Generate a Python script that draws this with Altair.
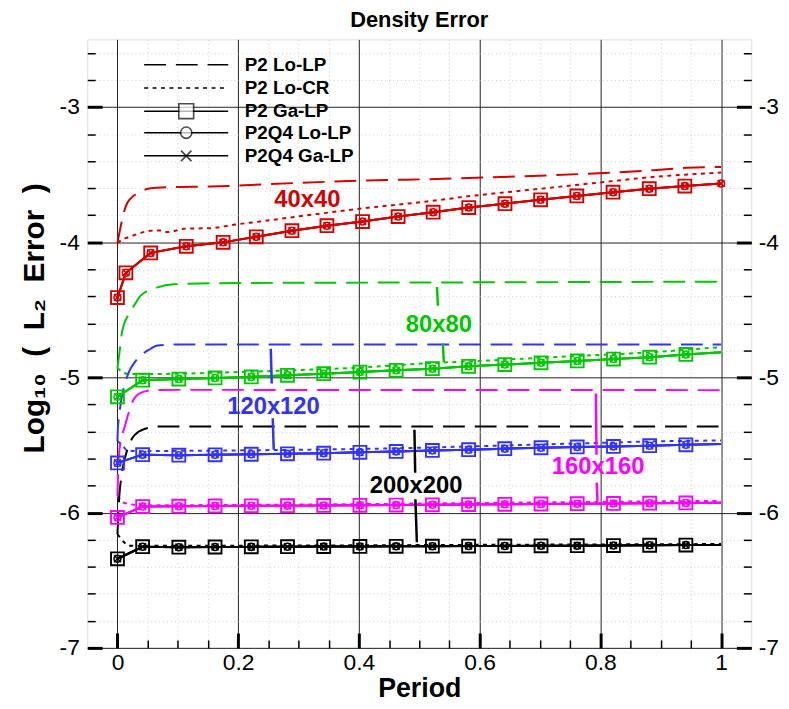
import altair as alt
import pandas as pd

# ------------------------------------------------------------------ data
methods = ["P2 Lo-LP", "P2 Lo-CR", "P2 Ga-LP", "P2Q4 Lo-LP", "P2Q4 Ga-LP"]
grids = ["40x40", "80x80", "120x120", "160x160", "200x200"]
grid_colors = ["#d40000", "#00c800", "#3232ff", "#ff00ff", "#000000"]

# marker / sample times
t_mark = [0, 0.0417, 0.1017, 0.1617, 0.2217, 0.2817, 0.3417, 0.4017, 0.4617,
          0.5217, 0.5817, 0.6417, 0.7017, 0.7617, 0.8217, 0.8817, 0.9417, 1.0]
t_mark_40 = [0, 0.014, 0.055, 0.114, 0.175, 0.230, 0.289, 0.347, 0.406, 0.465,
             0.523, 0.582, 0.642, 0.701, 0.761, 0.821, 0.881, 0.940, 1.0]

# ---- 40x40
r_lolp_x = [0, 0.0054, 0.011, 0.016, 0.025, 0.036, 0.049, 0.066, 0.088, 0.154, 0.29, 0.348, 0.593, 0.888, 0.943, 1.0]
r_lolp_y = [-4.006, -3.883, -3.773, -3.712, -3.663, -3.632, -3.607, -3.597, -3.593, -3.588, -3.563, -3.553, -3.524, -3.467, -3.45, -3.443]
r_locr_x = [0, 0.008, 0.022, 0.038, 0.055, 0.071, 0.082, 0.096, 0.11, 0.154, 0.192, 0.236, 0.29, 0.40, 0.51, 0.59, 0.70, 0.80, 0.888, 0.943, 1.0]
r_locr_y = [-4.006, -3.981, -3.957, -3.932, -3.915, -3.913, -3.925, -3.915, -3.9, -3.896, -3.871, -3.847, -3.815, -3.753, -3.70, -3.656, -3.605, -3.558, -3.517, -3.50, -3.485]
r_sol_y = [-4.409, -4.226, -4.079, -4.030, -4.001, -3.96, -3.915, -3.878, -3.847, -3.81,
           -3.778, -3.744, -3.715, -3.686, -3.658, -3.630, -3.604, -3.585, -3.566]

# ---- 80x80
g_lolp_x = [0, 0.0027, 0.0044, 0.0066, 0.011, 0.0164, 0.0273, 0.038, 0.065, 0.093, 0.2, 0.5, 1.0]
g_lolp_y = [-4.93, -4.837, -4.776, -4.69, -4.605, -4.55, -4.47, -4.397, -4.336, -4.311, -4.302, -4.298, -4.292]
g_locr_x = [0, 0.01, 0.02, 0.05, 0.18, 0.29, 0.40, 0.52, 0.59, 0.70, 0.80, 0.888, 0.943, 1.0]
g_locr_y = [-4.93, -4.965, -4.975, -4.975, -4.963, -4.947, -4.927, -4.894, -4.88, -4.855, -4.833, -4.813, -4.795, -4.776]
g_sol_y = [-5.143, -5.020, -5.012, -5.004, -4.996, -4.984, -4.972, -4.960, -4.947,
           -4.935, -4.918, -4.905, -4.892, -4.878, -4.864, -4.85, -4.83, -4.813]

# ---- 120x120
b_lolp_x = [0, 0.001, 0.019, 0.027, 0.055, 0.066, 0.098, 0.3, 1.0]
b_lolp_y = [-5.473, -5.351, -4.96, -4.898, -4.788, -4.764, -4.757, -4.756, -4.756]
b_locr_x = [0, 0.008, 0.016, 0.04, 0.1, 0.3, 0.45, 0.6, 0.75, 0.9, 1.0]
b_locr_y = [-5.473, -5.5, -5.54, -5.545, -5.543, -5.535, -5.525, -5.508, -5.49, -5.472, -5.466]
b_sol_y = [-5.632, -5.571, -5.575, -5.572, -5.568, -5.565, -5.56, -5.554, -5.547,
           -5.54, -5.534, -5.527, -5.52, -5.514, -5.51, -5.505, -5.498, -5.493]

# ---- 160x160
m_lolp_x = [0, 0.002, 0.006, 0.011, 0.018, 0.025, 0.036, 0.055, 0.1, 1.0]
m_lolp_y = [-5.877, -5.6, -5.46, -5.38, -5.27, -5.18, -5.12, -5.095, -5.092, -5.094]
m_locr_x = [0, 0.01, 0.022, 0.038, 0.2, 0.4, 0.6, 0.8, 1.0]
m_locr_y = [-5.877, -5.925, -5.938, -5.945, -5.943, -5.937, -5.928, -5.92, -5.913]
m_sol_y = [-6.035, -5.955, -5.952, -5.950, -5.949, -5.948, -5.947, -5.946, -5.944,
           -5.942, -5.940, -5.938, -5.936, -5.934, -5.932, -5.930, -5.928, -5.927]

# ---- 200x200
k_lolp_x = [0, 0.003, 0.0066, 0.0164, 0.0246, 0.0356, 0.049, 0.0655, 0.1, 1.0]
k_lolp_y = [-6.158, -5.88, -5.73, -5.534, -5.448, -5.40, -5.375, -5.363, -5.363, -5.363]
k_locr_x = [0, 0.011, 0.019, 0.04, 0.3, 0.6, 1.0]
k_locr_y = [-6.158, -6.219, -6.244, -6.245, -6.243, -6.238, -6.232]
k_sol_y = [-6.341, -6.252, -6.255, -6.254, -6.253, -6.252, -6.251, -6.25, -6.249,
           -6.248, -6.247, -6.246, -6.245, -6.244, -6.243, -6.241, -6.24, -6.239]

# annotation labels (grid name at data position)
lab_x = [0.3146, 0.5325, 0.2585, 0.7963, 0.4948]
lab_y = [-3.685, -4.609, -5.221, -5.666, -5.806]

# leader line segments (two per label, broken by the text)
lead_grid = ["80x80", "80x80", "120x120", "120x120", "160x160", "160x160", "200x200", "200x200"]
lead_x1 = [0.5293, 0.5391, 0.2540, 0.2572, 0.7926, 0.7940, 0.4920, 0.4936]
lead_x2 = [0.5309, 0.5407, 0.2556, 0.2589, 0.7936, 0.7952, 0.4932, 0.4960]
lead_y1 = [-4.331, -4.749, -4.788, -5.302, -5.118, -5.778, -5.387, -5.901]
lead_y2 = [-4.470, -4.888, -5.045, -5.534, -5.571, -5.913, -5.705, -6.219]

# legend placement inside the frame (data units)
leg_row_y = [-2.687, -2.860, -3.031, -3.190, -3.361]
leg_line_x = [0.0442, 0.1835]
leg_mark_x = 0.1139
leg_text_x = 0.2109

# axes
x_major = [0, 0.2, 0.4, 0.6, 0.8, 1]
x_minor = [0.05, 0.1, 0.15, 0.25, 0.3, 0.35, 0.45, 0.5, 0.55, 0.65, 0.7, 0.75, 0.85, 0.9, 0.95]
y_major = [-7, -6, -5, -4, -3]
y_minor = [-6.8, -6.6, -6.4, -6.2, -5.8, -5.6, -5.4, -5.2, -4.8, -4.6, -4.4, -4.2,
           -3.8, -3.6, -3.4, -3.2, -2.8, -2.6]
x_dom = [-0.05, 1.05]
y_dom = [-7, -2.5]

# ------------------------------------------------------------------ tables
series = {
    "40x40": (r_lolp_x, r_lolp_y, r_locr_x, r_locr_y, t_mark_40, r_sol_y),
    "80x80": (g_lolp_x, g_lolp_y, g_locr_x, g_locr_y, t_mark, g_sol_y),
    "120x120": (b_lolp_x, b_lolp_y, b_locr_x, b_locr_y, t_mark, b_sol_y),
    "160x160": (m_lolp_x, m_lolp_y, m_locr_x, m_locr_y, t_mark, m_sol_y),
    "200x200": (k_lolp_x, k_lolp_y, k_locr_x, k_locr_y, t_mark, k_sol_y),
}
rows = []
for g, (lx, ly, cx, cy, sx, sy) in series.items():
    for a, b in zip(lx, ly):
        rows.append(dict(grid=g, method="P2 Lo-LP", x=a, y=b, key=g + "|P2 Lo-LP", show=False))
    for a, b in zip(cx, cy):
        rows.append(dict(grid=g, method="P2 Lo-CR", x=a, y=b, key=g + "|P2 Lo-CR", show=False))
    for m in methods[2:]:
        for a, b in zip(sx, sy):
            show = (a < 1.0) or (g == "40x40" and m.startswith("P2Q4"))
            rows.append(dict(grid=g, method=m, x=a, y=b, key=g + "|" + m, show=show))
df = pd.DataFrame(rows)
df_dash = df[df.method.isin(methods[:2])]
df_solid = df[df.method.isin(methods[2:])]

df_lab = pd.DataFrame(dict(grid=grids, x=lab_x, y=lab_y))
df_lead = pd.DataFrame(dict(grid=lead_grid, x=lead_x1, x2=lead_x2, y=lead_y1, y2=lead_y2))
df_leg = pd.DataFrame(dict(method=methods, y=leg_row_y,
                           x1=[leg_line_x[0]] * 5, x2=[leg_line_x[1]] * 5,
                           xm=[leg_mark_x] * 5, xt=[leg_text_x] * 5))
df_dummy = pd.DataFrame(dict(x=[0.5], y=[-5.0]))

W, H = 670, 614
FONT = "Liberation Sans"

xs = alt.Scale(domain=x_dom, nice=False, zero=False)
ys = alt.Scale(domain=y_dom, nice=False, zero=False)
col = alt.Color("grid:N", scale=alt.Scale(domain=grids, range=grid_colors), legend=None)
dash_scale = alt.Scale(domain=methods, range=[[22, 10], [4, 4.5], [1, 0], [1, 0], [1, 0]])
X_PATH = "M-1,-1L1,1M-1,1L1,-1"

# ------------------------------------------------------------------ data layers
lines_dash = alt.Chart(df_dash).mark_line(strokeWidth=2, interpolate="monotone").encode(
    x=alt.X("x:Q", scale=xs, axis=None),
    y=alt.Y("y:Q", scale=ys, axis=None),
    color=col,
    detail="key:N",
    strokeDash=alt.StrokeDash("method:N", scale=dash_scale, legend=None),
)
lines_solid = alt.Chart(df_solid).mark_line(strokeWidth=2).encode(
    x=alt.X("x:Q", scale=xs, axis=None),
    y=alt.Y("y:Q", scale=ys, axis=None),
    color=col,
    detail="key:N",
)

marker_style = {"P2 Ga-LP": ("square", 169, 1.9), "P2Q4 Lo-LP": ("circle", 49, 1.6), "P2Q4 Ga-LP": (X_PATH, 49, 1.6)}
marker_layers = []
for m, (shp, sz, sw) in marker_style.items():
    marker_layers.append(
        alt.Chart(df_solid).transform_filter(
            (alt.datum.method == m) & (alt.datum.show == True)
        ).mark_point(filled=False, strokeWidth=sw, opacity=1, shape=shp, size=sz).encode(
            x=alt.X("x:Q", scale=xs, axis=None),
            y=alt.Y("y:Q", scale=ys, axis=None),
            color=col,
        )
    )

leaders = alt.Chart(df_lead).mark_rule(strokeWidth=2.5).encode(
    x=alt.X("x:Q", scale=xs, axis=None), x2="x2:Q",
    y=alt.Y("y:Q", scale=ys, axis=None), y2="y2:Q",
    color=col,
)
labels = alt.Chart(df_lab).mark_text(font=FONT, fontSize=24, fontWeight="bold", align="center", baseline="middle").encode(
    x=alt.X("x:Q", scale=xs, axis=None),
    y=alt.Y("y:Q", scale=ys, axis=None),
    text="grid:N",
    color=col,
)

# ------------------------------------------------------------------ legend (in-frame key)
leg_lines = alt.Chart(df_leg).mark_rule(strokeWidth=1.6, color="black").encode(
    x=alt.X("x1:Q", scale=xs, axis=None), x2="x2:Q",
    y=alt.Y("y:Q", scale=ys, axis=None),
    strokeDash=alt.StrokeDash("method:N", scale=dash_scale, legend=None),
)
leg_markers = [
    alt.Chart(df_leg).transform_filter(alt.datum.method == "P2 Ga-LP").mark_point(
        shape="square", size=225, filled=False, fill="white", strokeWidth=1.6, color="black",
    ).encode(x=alt.X("xm:Q", scale=xs, axis=None), y=alt.Y("y:Q", scale=ys, axis=None)),
    alt.Chart(df_leg).transform_filter(alt.datum.method == "P2Q4 Lo-LP").mark_point(
        shape="circle", size=130, filled=False, fill="white", strokeWidth=1.6, color="black",
    ).encode(x=alt.X("xm:Q", scale=xs, axis=None), y=alt.Y("y:Q", scale=ys, axis=None)),
    alt.Chart(df_leg).transform_filter(alt.datum.method == "P2Q4 Ga-LP").mark_point(
        shape=X_PATH, size=110, filled=False, strokeWidth=1.8, color="black",
    ).encode(x=alt.X("xm:Q", scale=xs, axis=None), y=alt.Y("y:Q", scale=ys, axis=None)),
]
leg_text = alt.Chart(df_leg).mark_text(font=FONT, fontSize=19, fontWeight="bold", align="left",
                                       baseline="middle", color="black").encode(
    x=alt.X("xt:Q", scale=xs, axis=None),
    y=alt.Y("y:Q", scale=ys, axis=None),
    text="method:N",
)


# ------------------------------------------------------------------ axes
def axis(orient, values, **kw):
    base = dict(orient=orient, values=values, title=None, labels=False, ticks=False,
                grid=False, domain=False)
    base.update(kw)
    return alt.Axis(**base)


TICK_MAJ = dict(ticks=True, tickSize=15, tickWidth=3, tickColor="black")
TICK_MIN = dict(ticks=True, tickSize=8, tickWidth=1.5, tickColor="black")
LAB = dict(labels=True, labelFont=FONT, labelFontSize=23, labelColor="black",
           labelExpr="'' + datum.value")

NB = "\u00a0"
y_title = "Log₁₀" + NB * 2 + "(" + NB * 2 + "L₂" + NB * 2 + "Error" + NB * 2 + ")"

x_axes = [
    axis("bottom", x_major, grid=True, gridColor="#222222", gridWidth=1, labelPadding=4,
         title="Period", titleFont=FONT, titleFontSize=27, titleFontWeight="bold",
         titleColor="black", titlePadding=1, **LAB),
    axis("bottom", x_minor, grid=True, gridColor="#c4c4c4", gridWidth=0.8, gridDash=[1, 3]),
    axis("top", x_major, offset=-H, **TICK_MAJ),
    axis("top", x_minor, offset=-H, **TICK_MIN),
    None, None, None,
]
y_axes = [
    axis("left", y_major, grid=True, gridColor="#222222", gridWidth=1, labelPadding=8,
         title=y_title, titleFont=FONT, titleFontSize=30, titleFontWeight="bold",
         titleColor="black", titlePadding=10, titleY=281, **LAB),
    axis("left", y_minor, grid=True, gridColor="#c4c4c4", gridWidth=0.8, gridDash=[1, 3]),
    axis("right", y_major, offset=-W, **TICK_MAJ),
    axis("right", y_minor, offset=-W, **TICK_MIN),
    axis("left", y_major, offset=-W, **TICK_MAJ),
    axis("left", y_minor, offset=-W, **TICK_MIN),
    axis("right", y_major, labelPadding=7, **LAB),
]

axis_layers = []
for xa, ya in zip(x_axes, y_axes):
    axis_layers.append(
        alt.Chart(df_dummy).mark_point(opacity=0).encode(
            x=alt.X("x:Q", scale=xs, axis=xa),
            y=alt.Y("y:Q", scale=ys, axis=ya),
        )
    )

chart = (
    alt.layer(*axis_layers, lines_dash, lines_solid, *marker_layers, leaders, labels,
              leg_lines, *leg_markers, leg_text)
    .resolve_axis(x="independent", y="independent")
    .properties(
        width=W, height=H,
        autosize=alt.AutoSizeParams(type="none"),
        padding={"left": 80, "top": 28.5, "right": 30, "bottom": 58},
        title=alt.TitleParams("Density Error", font=FONT, fontSize=22, fontWeight="bold",
                              color="black", anchor="middle", offset=7),
    )
    .configure_view(stroke="black", strokeWidth=3)
    .configure(font=FONT)
)

chart.save("out.html", embed_options={"renderer": "svg", "actions": False})
